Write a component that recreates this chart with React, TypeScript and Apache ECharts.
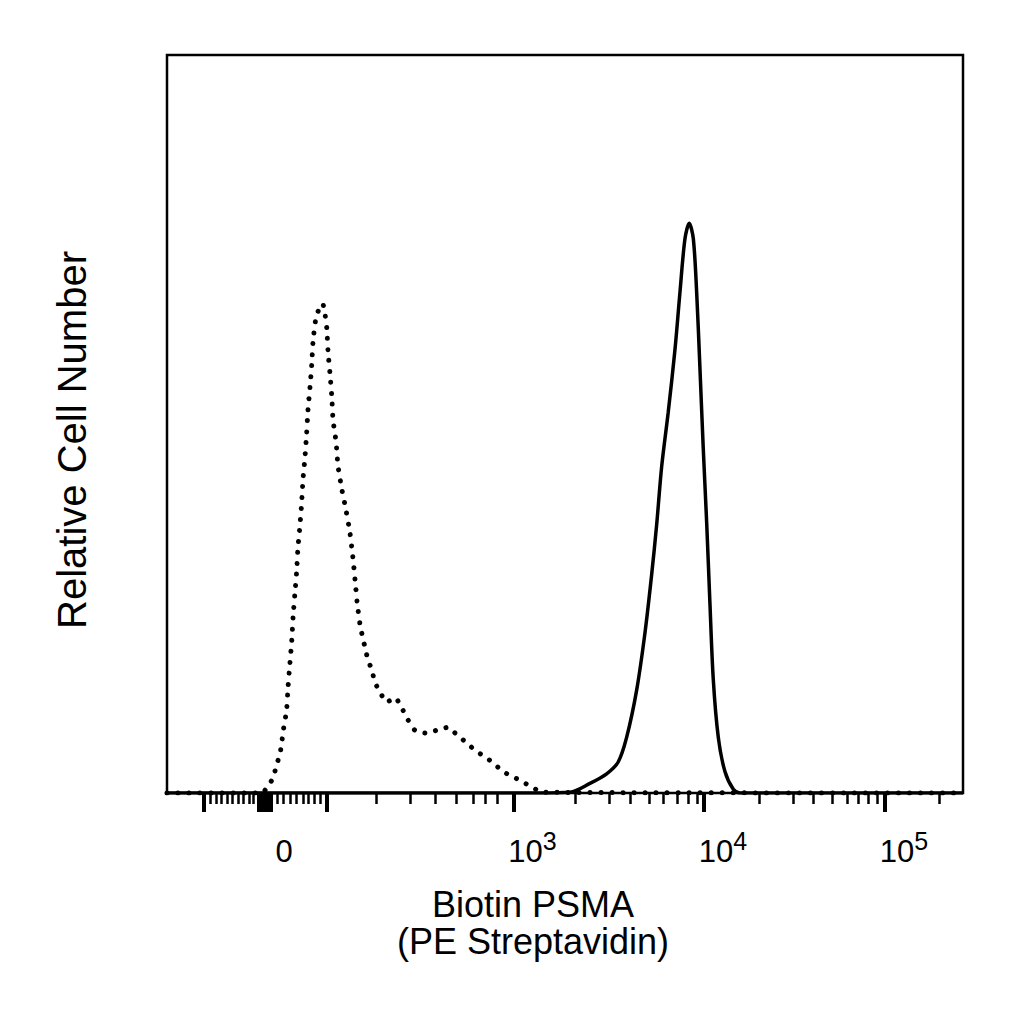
import { useEffect, useRef } from "react";
import * as echarts from "echarts";

// x values are in display units of the biexponential scale (0 = zero intensity, ~1 unit per decade)
const axisMin = -0.527;
const axisMax = 3.753;

const majorTicks = [-0.332, 0.332, 1.336, 2.36, 3.333];
const zeroTick = [0];
const minorTicks = [
  -0.292, -0.263, -0.233, -0.203, -0.174, -0.144, -0.117, -0.084, -0.063,
  0.066, 0.098, 0.134, 0.167, 0.203, 0.233, 0.263, 0.296,
  0.597, 0.78, 0.914, 1.027, 1.117, 1.183, 1.249,
  1.667, 1.849, 1.962, 2.065, 2.14, 2.215, 2.274, 2.323,
  2.656, 2.839, 2.946, 3.048, 3.129, 3.188, 3.242, 3.29,
  3.624,
];
const labelTicks = [0, 1.336, 2.36, 3.333];
const labelExponents = [null, 3, 4, 5];

// unstained / control (dotted)
const dottedX = [
  -0.527, -0.016, 0.009, 0.043, 0.059, 0.081, 0.09, 0.097, 0.108, 0.117,
  0.124, 0.134, 0.144, 0.151, 0.161, 0.17, 0.177, 0.188, 0.197, 0.204,
  0.215, 0.224, 0.231, 0.242, 0.251, 0.258, 0.274, 0.296, 0.31, 0.323,
  0.332, 0.339, 0.349, 0.359, 0.366, 0.382, 0.392, 0.412, 0.435, 0.457,
  0.472, 0.484, 0.495, 0.511, 0.525, 0.538, 0.554, 0.574, 0.591, 0.618,
  0.654, 0.699, 0.74, 0.769, 0.806, 0.869, 0.923, 0.984, 1.031, 1.084,
  1.129, 1.183, 1.226, 1.28, 1.333, 1.387, 1.441, 1.495, 3.753,
];
const dottedY = [
  0, 0, 0.7, 2.0, 3.5, 5.4, 6.8, 8.3, 9.9, 11.5,
  14.4, 17.6, 20.7, 23.9, 27.1, 30.0, 33.2, 36.3, 39.3, 42.4,
  45.5, 48.8, 51.9, 55.0, 58.0, 61.1, 64.4, 65.9, 66.3, 64.8,
  63.0, 59.8, 56.9, 53.7, 50.5, 47.6, 44.4, 41.3, 38.4, 35.2,
  32.0, 28.9, 25.9, 22.8, 21.1, 19.7, 18.0, 16.7, 15.0, 13.7,
  12.3, 12.9, 11.3, 9.9, 8.5, 8.1, 8.5, 8.9, 7.9, 6.8,
  5.8, 4.9, 4.1, 2.9, 2.2, 1.5, 0.7, 0.1, 0,
];

// Biotin PSMA + PE Streptavidin (solid)
const solidX = [
  -0.527, 1.478, 1.64, 1.747, 1.837, 1.899, 1.945, 1.998, 2.043, 2.079,
  2.106, 2.133, 2.168, 2.204, 2.231, 2.258, 2.281, 2.303, 2.321, 2.339,
  2.356, 2.375, 2.392, 2.41, 2.437, 2.473, 2.518, 2.554, 3.753,
];
const solidY = [
  0, 0, 0.1, 1.3, 2.6, 4.2, 7.6, 13.9, 21.7, 29.6,
  36.4, 44.3, 51.6, 60.0, 67.8, 75.1, 77.2, 75.1, 67.8, 57.3,
  46.9, 36.5, 25.9, 15.5, 7.6, 2.9, 0.5, 0, 0,
];

const FONT = "Liberation Sans, Arial, sans-serif";

function zip(xs: number[], ys: number[]) {
  return xs.map((x, i) => [x, ys[i]]);
}

function tickAxis(values: number[], length: number, width: number) {
  return {
    type: "value",
    gridIndex: 0,
    position: "bottom",
    min: axisMin,
    max: axisMax,
    axisLine: { show: false },
    splitLine: { show: false },
    axisLabel: { show: false },
    axisTick: {
      show: true,
      inside: false,
      length,
      customValues: values,
      lineStyle: { color: "#000", width },
    },
  };
}

function FlowHistogram() {
  const chartRef = useRef<HTMLDivElement>(null);

  useEffect(() => {
    const chart = echarts.init(chartRef.current, null, { renderer: "svg" });

    const option = {
      animation: false,
      backgroundColor: "#fff",
      grid: {
        left: 167,
        top: 55,
        right: 61,
        bottom: 231,
        show: true,
        borderColor: "#000",
        borderWidth: 2.5,
        backgroundColor: "transparent",
      },
      xAxis: [
        {
          type: "value",
          gridIndex: 0,
          position: "bottom",
          min: axisMin,
          max: axisMax,
          name: "Biotin PSMA\n(PE Streptavidin)",
          nameLocation: "middle",
          nameGap: 93,
          nameTextStyle: {
            fontFamily: FONT,
            fontSize: 36,
            lineHeight: 37,
            color: "#000",
            padding: [0, 64, 0, 0],
          },
          axisLine: { show: false },
          splitLine: { show: false },
          axisTick: {
            show: true,
            length: 19,
            customValues: majorTicks,
            lineStyle: { color: "#000", width: 4 },
          },
          axisLabel: {
            show: true,
            customValues: labelTicks,
            margin: 35,
            padding: [0, 0, 0, 38],
            formatter: (v: number) => {
              const i = labelTicks.findIndex((t) => Math.abs(t - v) < 1e-6);
              const e = i >= 0 ? labelExponents[i] : null;
              return e == null ? "{b|0}" : `{b|10}{s|${e}}`;
            },
            rich: {
              b: { fontFamily: FONT, fontSize: 31, lineHeight: 46, color: "#000" },
              s: {
                fontFamily: FONT,
                fontSize: 25,
                lineHeight: 14,
                verticalAlign: "top",
                color: "#000",
              },
            },
          },
        },
        tickAxis(minorTicks, 11, 2.5),
        tickAxis(zeroTick, 19, 16),
      ],
      yAxis: {
        type: "value",
        min: 0,
        max: 100,
        name: "Relative Cell Number",
        nameLocation: "middle",
        nameGap: 75,
        nameTextStyle: {
          fontFamily: FONT,
          fontSize: 40,
          color: "#000",
          padding: [0, 32, 0, 0],
        },
        axisLine: { show: false },
        axisTick: { show: false },
        axisLabel: { show: false },
        splitLine: { show: false },
      },
      series: [
        {
          name: "Control",
          type: "line",
          xAxisIndex: 0,
          data: zip(dottedX, dottedY),
          showSymbol: false,
          smooth: 0.2,
          lineStyle: {
            color: "#000",
            width: 5,
            type: [0.01, 11],
            cap: "round",
          },
          z: 3,
        },
        {
          name: "Biotin PSMA",
          type: "line",
          xAxisIndex: 0,
          data: zip(solidX, solidY),
          showSymbol: false,
          smooth: 0.3,
          lineStyle: { color: "#000", width: 3.5 },
          z: 4,
        },
      ],
    };

    chart.setOption(option as any);

    return () => {
      chart.dispose();
    };
  }, []);

  return (
    <div
      ref={chartRef}
      style={{ position: "fixed", left: 0, top: 0, width: 1024, height: 1024 }}
    ></div>
  );
}

export default FlowHistogram;
